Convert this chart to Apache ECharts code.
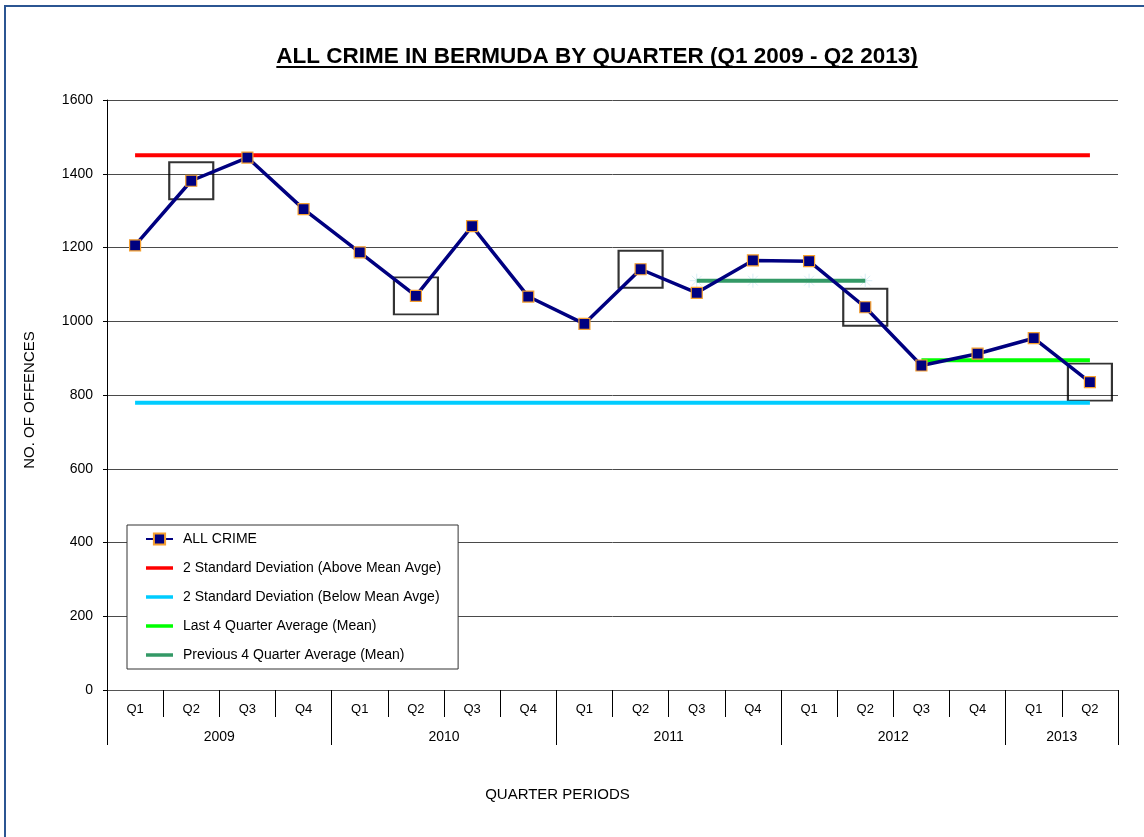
<!DOCTYPE html>
<html>
<head>
<meta charset="utf-8">
<script src="https://cdn.jsdelivr.net/npm/echarts@6/dist/echarts.min.js"></script>
<style>
  html, body { margin: 0; padding: 0; background: #fff; }
  #chart { width: 1144px; height: 837px; }
</style>
</head>
<body>
<div id="chart"></div>
<script>
// quarters Q1 2009 - Q2 2013
var quarters = ['Q1','Q2','Q3','Q4','Q1','Q2','Q3','Q4','Q1','Q2','Q3','Q4','Q1','Q2','Q3','Q4','Q1','Q2'];
var allCrime = [1206,1381,1444,1304,1187,1069,1258,1067,993,1141,1077,1165,1163,1038,880,912,954,835];
// years row: 37 half-quarter slots, labels at the centre of each year
var yearLabels = ['','','','','2009','','','','','','','','2010','','','','','','','','2011','','','','','','','','2012','','','','','','2013','',''];
var yearBounds = [0,8,16,24,32,36];

var upperSD = 1450;   // 2 std dev above mean
var lowerSD = 779;    // 2 std dev below mean
var lastMean = 894;   // last 4 quarters, Q3 2012 - Q2 2013
var prevMean = 1110;  // previous 4 quarters, Q3 2011 - Q2 2012
var highlightIdx = [1,5,9,13,17];

var FONT = '"Liberation Sans", Arial, sans-serif';
var titleText = 'ALL CRIME IN BERMUDA BY QUARTER (Q1 2009 - Q2 2013)';
var lineIcon = 'path://M0,0L27,0L27,3.5L0,3.5Z';

// measure title for underline
var cv = document.createElement('canvas').getContext('2d');
cv.font = 'bold 22.5px ' + FONT;
var titleW = cv.measureText(titleText).width;

var chart = echarts.init(document.getElementById('chart'));
var option = {
	animation: false,
	textStyle: { fontFamily: FONT },
	graphic: [
		{
			type: 'rect',
			shape: { x: 5, y: 6, width: 1200, height: 900 },
			style: { fill: 'none', stroke: '#2b5592', lineWidth: 2 },
			silent: true
		},
		{
			type: 'text',
			x: 597, y: 57,
			style: {
				text: titleText,
				font: 'bold 22.5px ' + FONT,
				fill: '#000',
				align: 'center',
				verticalAlign: 'middle'
			}
		},
		{
			type: 'line',
			shape: { x1: 597 - titleW / 2, y1: 67, x2: 597 + titleW / 2, y2: 67 },
			style: { stroke: '#000', lineWidth: 2 }
		}
	],
	legend: {
		orient: 'vertical',
		left: 127,
		top: 525,
		padding: [7, 17, 7, 18],
		itemWidth: 27,
		itemHeight: 14,
		itemGap: 15,
		symbolKeepAspect: true,
		backgroundColor: '#fff',
		borderColor: '#333',
		borderWidth: 1,
		textStyle: { color: '#000', fontSize: 14, fontFamily: FONT, padding: [0, 0, 0, 5] },
		data: [
			{ name: 'ALL CRIME' },
			{ name: '2 Standard Deviation (Above Mean Avge)', icon: lineIcon },
			{ name: '2 Standard Deviation (Below Mean Avge)', icon: lineIcon },
			{ name: 'Last 4 Quarter Average (Mean)', icon: lineIcon },
			{ name: 'Previous 4 Quarter Average (Mean)', icon: lineIcon }
		]
	},
	grid: { left: 107, right: 26, top: 100, bottom: 147 },
	xAxis: [
		{
			type: 'category',
			data: quarters,
			boundaryGap: true,
			axisLine: { lineStyle: { color: '#555', width: 1 } },
			axisTick: { show: true, interval: 0, length: 27, lineStyle: { color: '#000' } },
			axisLabel: { interval: 0, color: '#000', fontSize: 13, margin: 13 }
		},
		{
			type: 'category',
			data: yearLabels,
			position: 'bottom',
			offset: 27,
			boundaryGap: false,
			axisLine: { show: false },
			axisTick: {
				show: true, length: 28, lineStyle: { color: '#000' },
				interval: function (i) { return yearBounds.indexOf(i) >= 0; }
			},
			axisLabel: { interval: 0, color: '#000', fontSize: 14, margin: 13 },
			name: 'QUARTER PERIODS',
			nameLocation: 'middle',
			nameGap: 70,
			nameTextStyle: { color: '#000', fontSize: 15, padding: [0, 110, 0, 0] }
		}
	],
	yAxis: {
		type: 'value',
		min: 0,
		max: 1600,
		interval: 200,
		name: 'NO. OF OFFENCES',
		nameLocation: 'middle',
		nameGap: 70,
		nameTextStyle: { color: '#000', fontSize: 15, padding: [0, 10, 0, 0] },
		axisLine: { show: true, lineStyle: { color: '#000' } },
		axisTick: { show: true, length: 4, lineStyle: { color: '#000' } },
		axisLabel: {
			color: '#000', fontSize: 14, margin: 14,
			formatter: function (v) { return String(v); }
		},
		splitLine: { lineStyle: { color: '#4a4a4a', width: 1 } }
	},
	series: [
		{
			name: 'highlight',
			type: 'scatter',
			symbol: 'rect',
			symbolSize: [44, 37],
			itemStyle: { color: 'rgba(0,0,0,0)', borderColor: '#000', borderWidth: 2 },
			data: highlightIdx.map(function (i) { return [i, allCrime[i]]; }),
			z: 1,
			silent: true
		},
		{
			name: '2 Standard Deviation (Above Mean Avge)',
			type: 'line',
			symbol: 'none',
			lineStyle: { color: '#ff0000', width: 4 },
			itemStyle: { color: '#ff0000' },
			data: [[0, upperSD], [quarters.length - 1, upperSD]],
			z: 3
		},
		{
			name: '2 Standard Deviation (Below Mean Avge)',
			type: 'line',
			symbol: 'none',
			lineStyle: { color: '#00ccff', width: 4 },
			itemStyle: { color: '#00ccff' },
			data: [[0, lowerSD], [quarters.length - 1, lowerSD]],
			z: 3
		},
		{
			name: 'asterisks',
			type: 'scatter',
			symbol: 'path://M0,-10L0,10M-10,0L10,0M-7,-7L7,7M-7,7L7,-7',
			symbolSize: 14,
			itemStyle: { color: 'rgba(0,0,0,0)', borderColor: '#cfe8f2', borderWidth: 1 },
			data: [[10, prevMean], [11, prevMean], [12, prevMean], [13, prevMean]],
			z: 2,
			silent: true
		},
		{
			name: 'Previous 4 Quarter Average (Mean)',
			type: 'line',
			symbol: 'none',
			lineStyle: { color: '#339966', width: 4 },
			itemStyle: { color: '#339966' },
			data: [[10, prevMean], [13, prevMean]],
			z: 3
		},
		{
			name: 'Last 4 Quarter Average (Mean)',
			type: 'line',
			symbol: 'none',
			lineStyle: { color: '#00ff00', width: 4 },
			itemStyle: { color: '#00ff00' },
			data: [[14, lastMean], [17, lastMean]],
			z: 3
		},
		{
			name: 'ALL CRIME',
			type: 'line',
			symbol: 'rect',
			symbolSize: 11,
			showAllSymbol: true,
			lineStyle: { color: '#000080', width: 3.5 },
			itemStyle: { color: '#000080', borderColor: '#f5a030', borderWidth: 1.2 },
			data: allCrime,
			z: 4
		}
	]
};
chart.setOption(option);
</script>
</body>
</html>
